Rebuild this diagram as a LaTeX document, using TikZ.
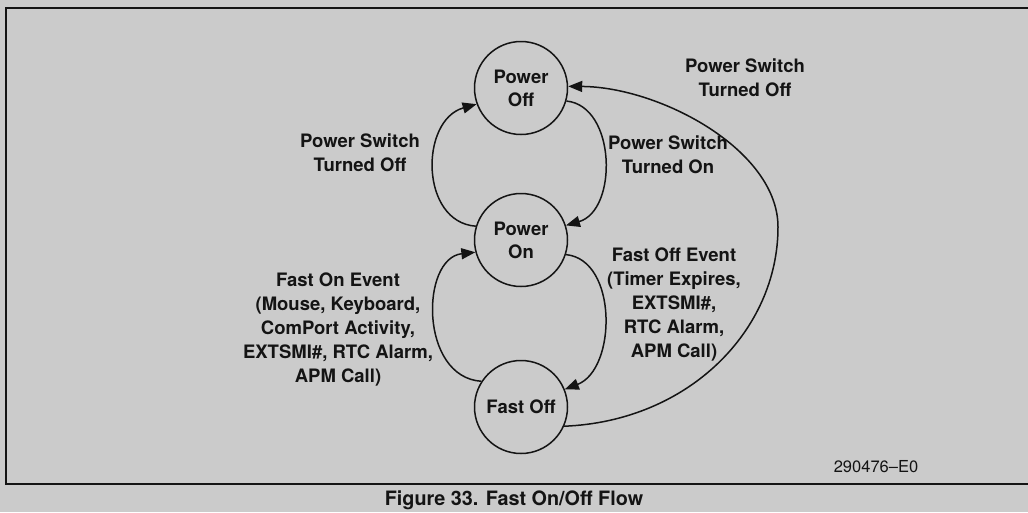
\documentclass[tikz,border=0pt]{standalone}
\usepackage{fontspec}
\setmainfont{TeX Gyre Heros}
\usetikzlibrary{arrows.meta}
\definecolor{bg}{RGB}{203,203,203}
\definecolor{ink}{RGB}{20,20,20}
\begin{document}
\begin{tikzpicture}[x=1pt,y=-1pt,
  state/.style={circle,draw=ink,line width=1.5pt,minimum size=93pt,inner sep=0pt,
    font=\fontsize{18.5}{23}\selectfont\bfseries,align=center,text=ink},
  lbl/.style={font=\fontsize{18.5}{24}\selectfont\bfseries,align=center,text=ink,inner sep=0pt},
  flow/.style={draw=ink,line width=1.5pt,-{Triangle[length=14pt,width=11pt]}},
  frame/.style={draw=ink,line width=1.8pt}]
\useasboundingbox (0,0) rectangle (1028,512);
\fill[bg] (0,0) rectangle (1028,512);
\draw[frame] (1032,8) -- (6,8) -- (6,484) -- (1032,484);

\node[state] (poff) at (521,88) {Power\\Off};
\node[state] (pon) at (521,240) {Power\\On};
\node[state] (foff) at (521,407) {Fast Off};

\draw[flow] (pon.163) .. controls +(-56,-4) and +(-57,16) .. (poff.200);
\draw[flow] (poff.-16) .. controls +(50,5) and +(52,-15) .. (pon.18);
\draw[flow] (pon.-18) .. controls +(52,5) and +(52,-20) .. (foff.22);
\draw[flow] (foff.147) .. controls +(-62,-4) and +(-55,6) .. (pon.195);
\coordinate (apex) at (778,227);
\draw[flow] (foff.-24) .. controls +(125,-5) and (778,330) .. (apex)
  .. controls (778,150) and (660,87) .. (poff.2);

\node[lbl] (l1) at (360,153) {Power Switch\\Turned Off};
\node[lbl] (l2) at (668,155) {Power Switch\\Turned On};
\node[lbl] (l3) at (745,78) {Power Switch\\Turned Off};
\node[lbl] (l4) at (674,304) {Fast Off Event\\(Timer Expires,\\EXTSMI\#,\\RTC Alarm,\\APM Call)};
\node[lbl] (l5) at (338,329) {Fast On Event\\(Mouse, Keyboard,\\ComPort Activity,\\EXTSMI\#, RTC Alarm,\\APM Call)};

\node[font=\fontsize{19.8}{22}\selectfont\bfseries,text=ink,inner sep=0pt] (cap) at (514,500) {Figure 33. Fast On/Off Flow};
\node[font=\fontsize{16.5}{18}\selectfont,text=ink,inner sep=0pt] (fig) at (876,467) {290476–E0};
\end{tikzpicture}
\end{document}
